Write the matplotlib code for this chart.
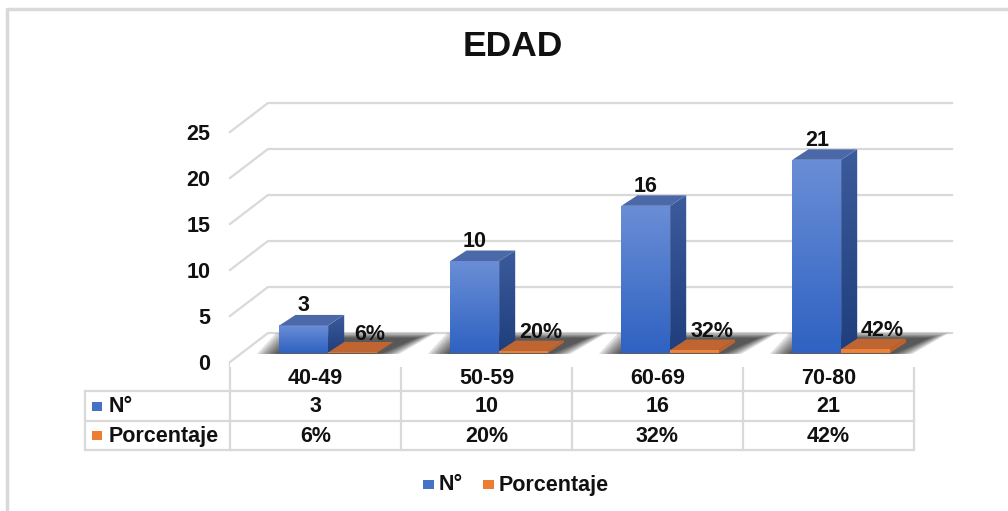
import numpy as np
import matplotlib
matplotlib.use("Agg")
import matplotlib.pyplot as plt
from matplotlib.patches import Polygon, Rectangle
from matplotlib.colors import LinearSegmentedColormap

categories = ["40-49", "50-59", "60-69", "70-80"]
counts = [3, 10, 16, 21]
percents = [6, 20, 32, 42]
series_names = ["N°", "Porcentaje"]
yticks = [0, 5, 10, 15, 20, 25]

plt.rcParams["font.family"] = ["Liberation Sans", "DejaVu Sans"]
plt.rcParams["font.weight"] = "bold"

BLUE = "#4472c4"
ORANGE = "#ed7d31"
GRID = "#d9d9d9"
TXT = "#111111"
FS = 15.5

# depth of the 3D box (data units) and bar depth
DX, DY = 0.222, 3.15
F0 = 0.31                 # bars sit this far back into the box
BDX, BDY = 0.094, 1.14    # depth of each bar
W = 0.285

fig = plt.figure(figsize=(10.08, 5.11), dpi=100)
ax = fig.add_axes([230 / 1008, 1 - 366.6 / 511, 726.75 / 1008, 271.4 / 511])
ax.set_xlim(-0.5, 3.75)
ax.set_ylim(-0.5, 29)
for s in ax.spines.values():
    s.set_visible(False)
ax.set_xticks([])
ax.set_yticks(yticks)
ax.set_yticklabels([str(v) for v in yticks], fontsize=FS, fontweight="bold", color=TXT)
ax.tick_params(axis="y", length=0, pad=14)

# side wall + back wall gridlines
for v in yticks:
    ax.plot([-0.5, -0.5 + DX, len(categories) - 0.5 + DX], [v, v + DY, v + DY],
            color=GRID, lw=1.6, zorder=0, clip_on=False)


def grad_face(verts, c_top, c_bot, z):
    verts = np.array(verts)
    x0, x1 = verts[:, 0].min(), verts[:, 0].max()
    y0, y1 = verts[:, 1].min(), verts[:, 1].max()
    cmap = LinearSegmentedColormap.from_list("g", [c_bot, c_top])
    poly = Polygon(verts, closed=True, facecolor="none", edgecolor="none", zorder=z)
    ax.add_patch(poly)
    im = ax.imshow(np.linspace(0, 1, 64).reshape(-1, 1), cmap=cmap, origin="lower",
                   extent=[x0, x1, y0, y1], aspect="auto", zorder=z,
                   interpolation="bilinear")
    im.set_clip_path(poly)


def bar3d(x0, h, front_top, front_bot, side_top, side_bot, top_col, z):
    bx, by = F0 * DX, F0 * DY
    x1 = x0 + W
    front = [(x0 + bx, by), (x1 + bx, by), (x1 + bx, by + h), (x0 + bx, by + h)]
    side = [(x1 + bx, by), (x1 + bx + BDX, by + BDY), (x1 + bx + BDX, by + h + BDY), (x1 + bx, by + h)]
    top = [(x0 + bx, by + h), (x1 + bx, by + h), (x1 + bx + BDX, by + h + BDY), (x0 + bx + BDX, by + h + BDY)]
    grad_face(front, front_top, front_bot, z)
    grad_face(side, side_top, side_bot, z)
    ax.add_patch(Polygon(top, closed=True, facecolor=top_col, edgecolor="none", zorder=z))


for i, (n, p) in enumerate(zip(counts, percents)):
    bx, by = F0 * DX, F0 * DY
    left = i - 0.28
    right = i - 0.28 + 2 * W
    # soft floor shadow
    for k in range(8):
        e = k * 0.016
        shadow = [(left + bx - 0.02 - e, by - 0.1), (right + bx + 0.02 + e, by - 0.1),
                  (right + bx + BDX + 0.14 + e, by + BDY + 0.5 + e * 5),
                  (left + bx + BDX - e, by + BDY + 0.5 + e * 5)]
        ax.add_patch(Polygon(shadow, closed=True, facecolor="black", alpha=0.12,
                             edgecolor="none", zorder=1, clip_on=False))
    bar3d(left, n, "#6a8ed6", "#2f62c2", "#3b5b9c", "#1f3e7c", "#4b69a8", 2 + i * 0.1)
    bar3d(i - 0.28 + W, p / 100, "#f08a42", ORANGE, "#c0622a", "#c0622a", "#bf6532", 2.05 + i * 0.1)
    ax.text(left + bx + W / 2, n + by + BDY + 0.4, str(n), ha="center", va="baseline",
            fontsize=FS, fontweight="bold", color=TXT, zorder=5)
    ax.text(left + W + bx + W / 2 + 0.1, p / 100 + by + BDY + 0.25, f"{p}%", ha="center",
            va="baseline", fontsize=FS, fontweight="bold", color=TXT, zorder=5)

ax.set_xlim(-0.5, 3.75)
ax.set_ylim(-0.5, 29)

# overlay in pixel coordinates for title, data table and legend
ov = fig.add_axes([0, 0, 1, 1], zorder=-1)
ov.set_xlim(0, 1008)
ov.set_ylim(511, 0)
ov.axis("off")
ov.plot([7, 7, 1008], [511, 9, 9], color="#d9d9d9", lw=2.5)

ov.text(513, 47, "EDAD", ha="center", va="center", fontsize=25.5, fontweight="bold", color=TXT)

# column boundaries from the chart's x scale
edges = [ax.transData.transform((c - 0.5, 0))[0] for c in range(len(categories) + 1)]
centers = [(a + b) / 2 for a, b in zip(edges[:-1], edges[1:])]
rows_y = [363, 391, 421, 450]
tl = dict(color=GRID, lw=1.6)
ov.plot([edges[0], edges[-1]], [rows_y[0], rows_y[0]], **tl)
for y in rows_y[1:]:
    ov.plot([85, edges[-1]], [y, y], **tl)
for x in edges:
    ov.plot([x, x], [rows_y[0], rows_y[-1]], **tl)
ov.plot([85, 85], [rows_y[1], rows_y[-1]], **tl)

for cx, cat, n, p in zip(centers, categories, counts, percents):
    ov.text(cx, (rows_y[0] + rows_y[1]) / 2 + 1, cat, ha="center", va="center", fontsize=FS, color=TXT)
    ov.text(cx, (rows_y[1] + rows_y[2]) / 2 + 1, str(n), ha="center", va="center", fontsize=FS, color=TXT)
    ov.text(cx, (rows_y[2] + rows_y[3]) / 2 + 1, f"{p}%", ha="center", va="center", fontsize=FS, color=TXT)

for j, (name, col) in enumerate(zip(series_names, [BLUE, ORANGE])):
    yc = (rows_y[j + 1] + rows_y[j + 2]) / 2
    ov.add_patch(Rectangle((92, yc - 4), 10, 9, facecolor=col, edgecolor="none"))
    ov.text(109, yc + 1, name, ha="left", va="center", fontsize=FS, color=TXT)

# bottom legend
for xk, name, col in zip([423, 483], series_names, [BLUE, ORANGE]):
    ov.add_patch(Rectangle((xk, 480), 11, 9, facecolor=col, edgecolor="none"))
    ov.text(xk + 16, 485, name, ha="left", va="center", fontsize=FS, color=TXT)

fig.savefig("out.png", dpi=100)
